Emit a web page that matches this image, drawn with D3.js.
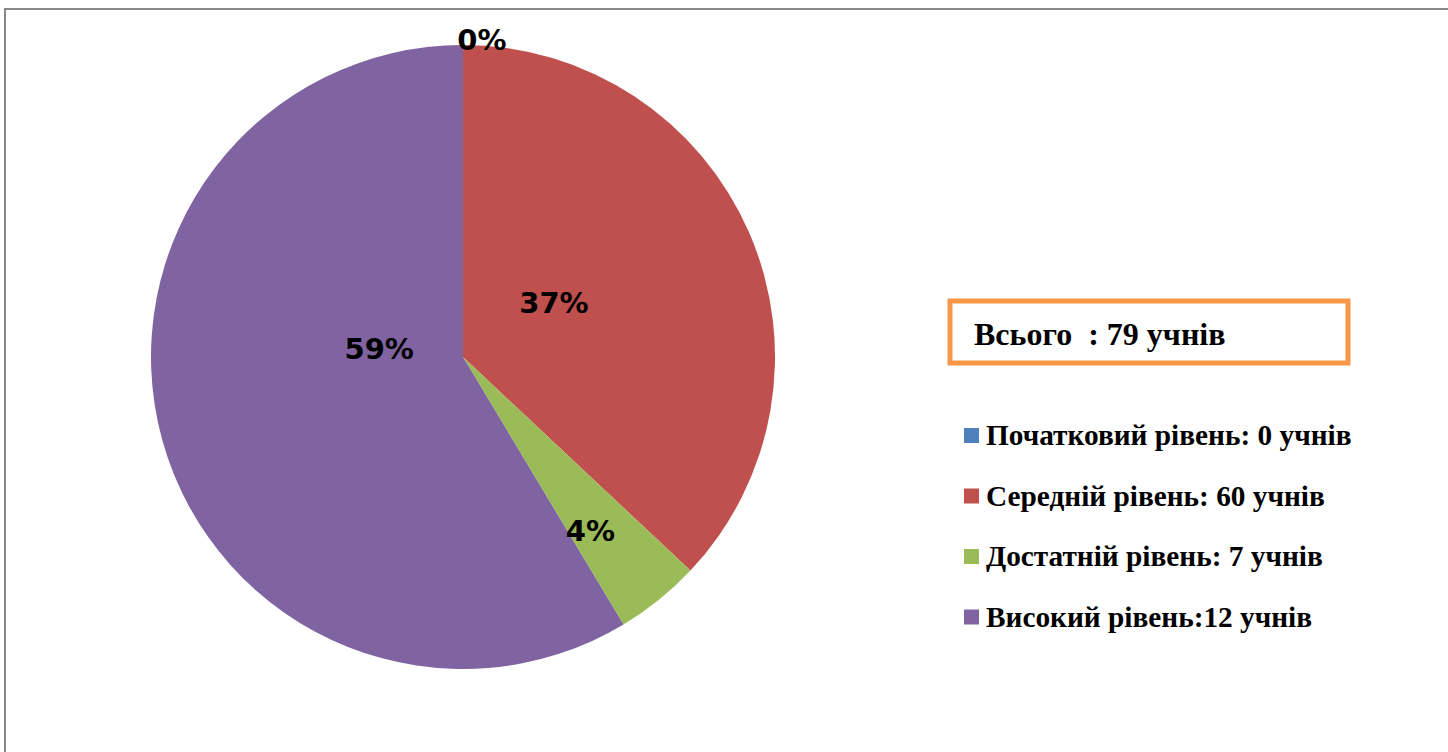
<!DOCTYPE html>
<html>
<head>
<meta charset="utf-8">
<script src="https://cdn.jsdelivr.net/npm/d3@7"></script>
<style>
  body { margin: 0; background: #fff; }
</style>
</head>
<body>
<div id="my_dataviz"></div>
<script>
// slice data (share of pupils, %)
var levels = ["Початковий рівень", "Середній рівень", "Достатній рівень", "Високий рівень"];
var shares = [0, 37.0, 4.4, 58.6];
var legendLabels = ["Початковий рівень: 0 учнів", "Середній рівень: 60 учнів",
                    "Достатній рівень: 7 учнів", "Високий рівень:12 учнів"];
var totalLabel = "Всього  : 79 учнів";
var colors = ["#4F81BD", "#C0504D", "#9BBB59", "#8064A2"];

// label placement (angle in degrees, radius as fraction of pie radius) - Excel best fit look
var labelPlace = [[3.4, 1.02], [59, 0.34], [143.7, 0.69], [276, 0.27]];

var width = 1448, height = 752;
var cx = 463, cy = 357, radius = 312;

var svg = d3.select("#my_dataviz")
  .append("svg")
    .attr("width", width)
    .attr("height", height);

// chart frame
svg.append("rect")
  .attr("x", 5).attr("y", 9)
  .attr("width", 1500).attr("height", 800)
  .attr("fill", "none")
  .attr("stroke", "#878787")
  .attr("stroke-width", 2);

var data = levels.map(function(d, i) { return {level: d, value: shares[i], i: i}; });

var pie = d3.pie()
  .sort(null)
  .value(function(d) { return d.value; });

var arc = d3.arc()
  .innerRadius(0)
  .outerRadius(radius);

var g = svg.append("g")
  .attr("transform", "translate(" + cx + "," + cy + ")");

var arcs = pie(data);

g.selectAll("path.slice")
  .data(arcs)
  .enter()
  .append("path")
    .attr("class", "slice")
    .attr("d", arc)
    .attr("fill", function(d) { return colors[d.data.i]; });

var fmt = function(v) { return Math.round(v) + "%"; };

g.selectAll("text.pct")
  .data(arcs)
  .enter()
  .append("text")
    .attr("class", "pct")
    .attr("transform", function(d) {
      var p = labelPlace[d.data.i];
      var a = p[0] * Math.PI / 180;
      var la = d3.arc().innerRadius(p[1] * radius).outerRadius(p[1] * radius);
      var c = la.centroid({startAngle: a, endAngle: a});
      return "translate(" + c[0] + "," + c[1] + ")";
    })
    .attr("text-anchor", "middle")
    .attr("dy", "0.36em")
    .style("font-family", "'DejaVu Sans', sans-serif")
    .style("font-weight", "bold")
    .style("font-size", "29px")
    .attr("fill", "#000")
    .text(function(d) { return fmt(d.data.value); });

// total box
svg.append("rect")
  .attr("x", 950).attr("y", 301)
  .attr("width", 398).attr("height", 62)
  .attr("fill", "#fff")
  .attr("stroke", "#F79646")
  .attr("stroke-width", 5);

svg.append("text")
  .attr("x", 974).attr("y", 345)
  .style("font-family", "'Liberation Serif', 'Times New Roman', serif")
  .style("font-weight", "bold")
  .style("font-size", "32px")
  .style("white-space", "pre")
  .attr("fill", "#000")
  .text(totalLabel);

// legend
var legend = svg.append("g")
  .attr("transform", "translate(964,428)");

var item = legend.selectAll("g.item")
  .data(legendLabels)
  .enter()
  .append("g")
    .attr("class", "item")
    .attr("transform", function(d, i) { return "translate(0," + i * 60.5 + ")"; });

item.append("rect")
  .attr("width", 15).attr("height", 15)
  .attr("fill", function(d, i) { return colors[i]; });

item.append("text")
  .attr("x", 22).attr("y", 17)
  .style("font-family", "'Liberation Serif', 'Times New Roman', serif")
  .style("font-weight", "bold")
  .style("font-size", "29.3px")
  .attr("fill", "#000")
  .text(function(d) { return d; });
</script>
</body>
</html>
